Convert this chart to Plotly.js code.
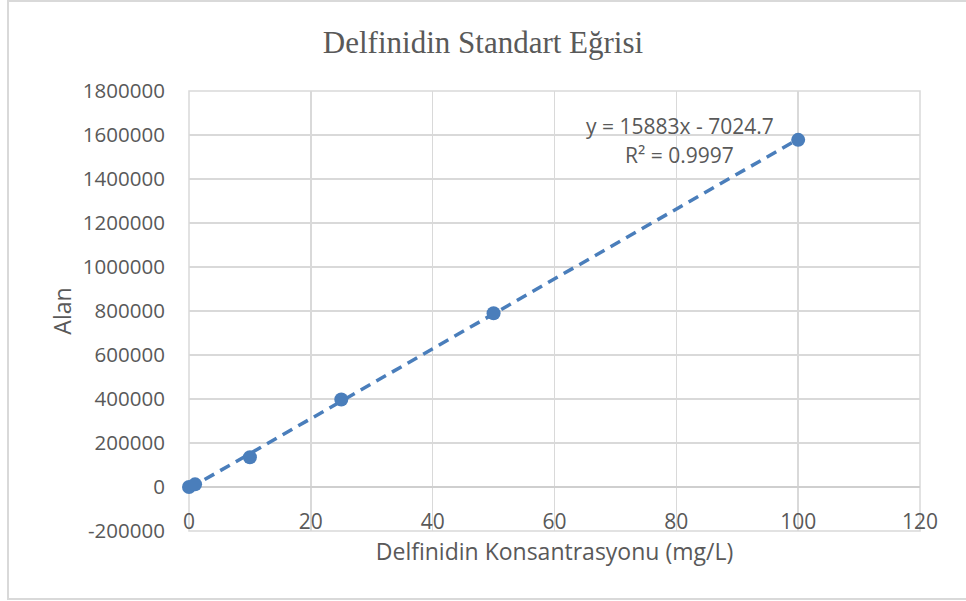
<!DOCTYPE html>
<html>
<head>
<meta charset="utf-8">
<script src="https://cdn.plot.ly/plotly-3.0.1.min.js"></script>
<style>
  html, body { margin: 0; padding: 0; background: #fff; }
  #wrap { position: relative; width: 966px; height: 601px; overflow: hidden; }
  #chart { position: absolute; left: 0; top: 0; width: 966px; height: 601px; }
  #frame { position: absolute; left: 7px; top: 0px; width: 970px; height: 600px;
           border-left: 2px solid #d9d9d9; border-top: 2px solid #d9d9d9; border-bottom: 2px solid #d9d9d9;
           box-sizing: border-box; pointer-events: none; }
</style>
</head>
<body>
<div id="wrap">
  <div id="chart"></div>
  <div id="frame"></div>
</div>
<script>
// Data
const concentrations = [0, 1, 10, 25, 50, 100];
const areas = [0, 12000, 135000, 398000, 790000, 1578000];
// Trendline coefficients as printed on the chart
const trendSlope = 15883;
const trendIntercept = -7024.7;
const trendR2 = 0.9997;
const trendX = [0, 100];
const xTicks = [0, 20, 40, 60, 80, 100, 120];
const yTicks = [-200000, 0, 200000, 400000, 600000, 800000, 1000000, 1200000, 1400000, 1600000, 1800000];

const trendY = trendX.map(x => trendSlope * x + trendIntercept);
const blue = '#4a7ebb';
const textGray = '#595959';
const gridGray = '#d9d9d9';
const sans = 'Open Sans, Liberation Sans, sans-serif';

const traces = [
  {
    x: trendX, y: trendY, type: 'scatter', mode: 'lines',
    line: { color: blue, width: 3.5, dash: '11px,7px' },
    hoverinfo: 'skip', showlegend: false, cliponaxis: false
  },
  {
    x: concentrations, y: areas, type: 'scatter', mode: 'markers',
    marker: { color: blue, size: 14 },
    showlegend: false, cliponaxis: false
  }
];

const layout = {
  width: 966, height: 601,
  paper_bgcolor: '#fff', plot_bgcolor: '#fff',
  margin: { l: 189, r: 46, t: 91, b: 70, pad: 0 },
  title: {
    text: 'Delfinidin Standart Eğrisi',
    font: { family: 'Liberation Serif, Times New Roman, serif', size: 31, color: textGray },
    x: 0.5, xanchor: 'center', y: 0.93, yanchor: 'middle'
  },
  xaxis: {
    range: [0, 120], tickvals: xTicks, ticktext: xTicks.map(String),
    showgrid: true, gridcolor: gridGray, gridwidth: 1.5,
    zeroline: false, showline: false,
    anchor: 'free', position: 0.1,
    ticks: 'outside', ticklen: 0, tickcolor: 'rgba(0,0,0,0)',
    ticklabelstandoff: 16,
    tickfont: { family: sans, size: 21, color: textGray },
    title: { text: 'Delfinidin Konsantrasyonu (mg/L)', font: { family: sans, size: 23, color: textGray }, standoff: 4 }
  },
  yaxis: {
    range: [-200000, 1800000], tickvals: yTicks, ticktext: yTicks.map(String),
    showgrid: true, gridcolor: gridGray, gridwidth: 1.5,
    zeroline: true, zerolinecolor: '#cfcfcf', zerolinewidth: 1.5,
    showline: false,
    ticks: 'outside', ticklen: 0, tickcolor: 'rgba(0,0,0,0)',
    ticklabelstandoff: 19,
    tickfont: { family: sans, size: 20.5, color: textGray },
    title: { text: 'Alan', font: { family: sans, size: 23, color: textGray }, standoff: 4 }
  },
  shapes: [
    { type: 'rect', xref: 'paper', yref: 'paper', x0: 0, x1: 1, y0: 0, y1: 1,
      line: { color: gridGray, width: 1.5 }, layer: 'below' }
  ],
  annotations: [
    { xref: 'x', yref: 'paper', x: 80.6, y: 0.92, xanchor: 'center', yanchor: 'middle', showarrow: false,
      text: 'y = ' + trendSlope + 'x - ' + Math.abs(trendIntercept), font: { family: sans, size: 21, color: textGray } },
    { xref: 'x', yref: 'paper', x: 80.6, y: 0.854, xanchor: 'center', yanchor: 'middle', showarrow: false,
      text: 'R² = ' + trendR2, font: { family: sans, size: 21, color: textGray } }
  ]
};

Plotly.newPlot('chart', traces, layout, { displayModeBar: false, staticPlot: true });
</script>
</body>
</html>
